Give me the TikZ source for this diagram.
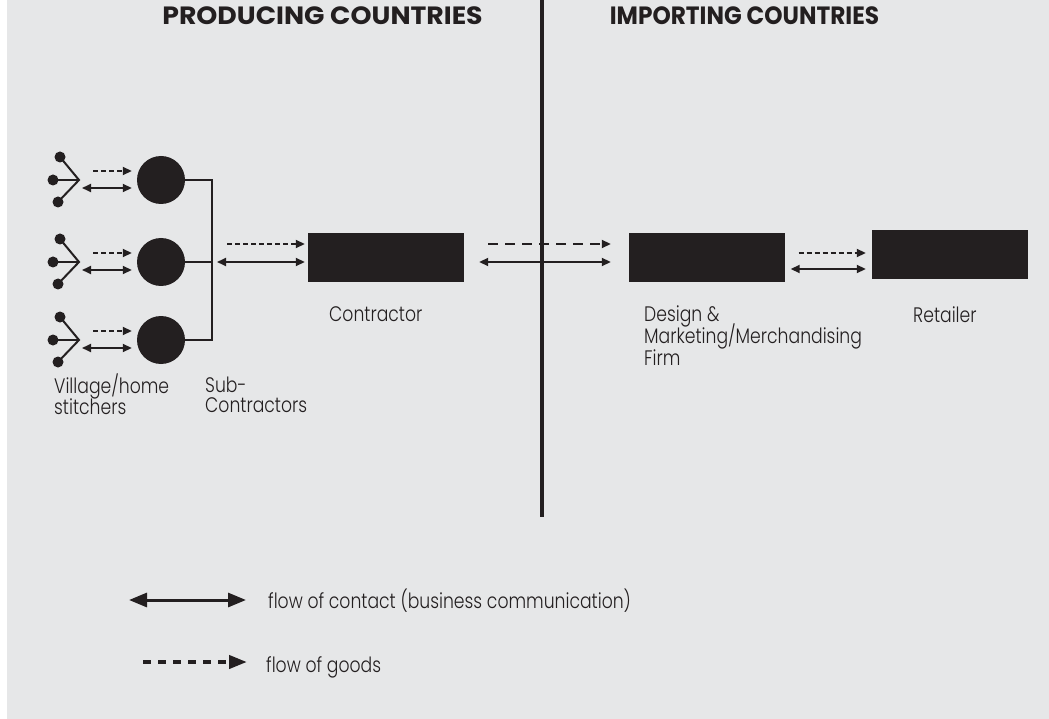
\documentclass[tikz,border=0pt]{standalone}
\usepackage{graphicx}
\usepackage{fontspec}
\setmainfont{Poppins}[UprightFont=* Light, BoldFont=* Bold, FakeStretch=0.82]
\newfontfamily\titlefont{Poppins Bold}
\usetikzlibrary{arrows.meta,calc}
\definecolor{bg}{RGB}{230,231,232}
\definecolor{ink}{RGB}{35,31,32}
\begin{document}
\setlength{\lineskiplimit}{-50pt}
\begin{tikzpicture}[x=1pt,y=-1pt,
  blk/.style={fill=ink,draw=none,minimum width=156pt,minimum height=49pt,inner sep=0pt},
  subc/.style={circle,fill=ink,draw=none,minimum size=48pt,inner sep=0pt},
  stitcher/.style={circle,fill=ink,draw=none,minimum size=11pt,inner sep=0pt},
  wire/.style={draw=ink,line width=2pt},
  contact/.style={draw=ink,line width=1.8pt,{Triangle[length=9pt,width=8pt]}-{Triangle[length=9pt,width=8pt]}},
  goods/.style={draw=ink,line width=1.8pt,dash pattern=on 5pt off 3pt,-{Triangle[length=9pt,width=8pt]}},
  goodslong/.style={goods,dash pattern=on 10pt off 7pt},
  lbl/.style={font=\fontsize{21}{21.5}\selectfont,text=ink,align=left,inner sep=0pt},
  title/.style={font=\titlefont\fontsize{25}{25}\selectfont,text=ink,inner sep=0pt,anchor=base}
]
\useasboundingbox (0,0) rectangle (1049,719);
\fill[white] (0,0) rectangle (1049,719);
\fill[bg] (7,0) rectangle (1049,719);

\node[title] (prod) at (322.5,24.5) {\scalebox{1.07}[1]{PRODUCING COUNTRIES}};
\node[title] (imp) at (744.5,24.5) {\scalebox{0.93}[1]{IMPORTING COUNTRIES}};

\coordinate (divtop) at (542,0);
\coordinate (divbot) at (542,517);
\draw[draw=ink,line width=4pt] (divtop) -- (divbot);

\foreach \i/\yc in {1/180,2/262,3/340}{
  \node[subc] (sub\i) at (161,\yc) {};
  \coordinate (hub\i) at (79,\yc);
  \node[stitcher] (sa\i) at (60,\yc-23) {};
  \node[stitcher] (sb\i) at (53,\yc) {};
  \node[stitcher] (sc\i) at (58,\yc+22) {};
  \draw[wire] (sa\i.center) -- (hub\i) -- (sc\i.center);
  \draw[wire] (sb\i.center) -- (hub\i);
  \draw[goods] ($(hub\i)+(14,-9)$) -- ($(sub\i.west)+(-5,-9)$);
  \draw[contact] ($(hub\i)+(3,8)$) -- ($(sub\i.west)+(-5,8)$);
}

\coordinate (brT) at (212,180);
\coordinate (brB) at (212,340);
\coordinate (brM) at (212,262);
\draw[wire] (sub1.east) -- (brT) -- (brB) -- (sub3.east);
\draw[wire] (sub2.east) -- (brM);

\node[blk] (contr) at (386,257.5) {};
\draw[goods] ($(brM)+(15,-18)$) -- ($(contr.west)+(-3,-13.5)$);
\draw[contact] ($(brM)+(5,0)$) -- ($(contr.west)+(-3,4.5)$);

\node[blk] (design) at (706.5,257.5) {};
\draw[goodslong] ($(contr.east)+(24,-13.5)$) -- ($(design.west)+(-17.5,-13.5)$);
\draw[contact] ($(contr.east)+(15,4.5)$) -- ($(design.west)+(-17.5,4.5)$);

\node[blk] (ret) at (949.5,254.5) {};
\draw[goods] ($(design.east)+(14,-4.5)$) -- ($(ret.west)+(-5.5,-1.5)$);
\draw[contact] ($(design.east)+(6,11.5)$) -- ($(ret.west)+(-5.5,14.5)$);

\node[lbl,anchor=north west,font=\fontsize{21}{20.5}\selectfont] (lvil) at (54,374) {\rule{0pt}{18pt}Village/home\\stitchers};
\node[lbl,anchor=north west,font=\fontsize{21}{20.5}\selectfont] (lsub) at (205,374) {\rule{0pt}{18pt}Sub-\\Contractors};
\node[lbl,anchor=base west] (lcon) at (329,321) {Contractor};
\node[lbl,anchor=north west,font=\fontsize{21}{22}\selectfont] (ldes) at (644,303) {\rule{0pt}{18pt}Design \&\\Marketing/Merchandising\\Firm};
\node[lbl,anchor=base west] (lret) at (913,322) {Retailer};

\coordinate (lcA) at (129,600);
\coordinate (lcB) at (246,600);
\draw[draw=ink,line width=3pt,{Triangle[length=18pt,width=14pt]}-{Triangle[length=18pt,width=14pt]}] (lcA) -- (lcB);
\node[lbl,anchor=base west] (lct) at (268,608) {flow of contact (business communication)};
\coordinate (lgA) at (143,662);
\coordinate (lgB) at (247,662);
\draw[draw=ink,line width=4pt,dash pattern=on 8pt off 7pt,-{Triangle[length=18pt,width=13pt]}] (lgA) -- (lgB);
\node[lbl,anchor=base west] (lgt) at (266,672) {flow of goods};
\end{tikzpicture}
\end{document}
